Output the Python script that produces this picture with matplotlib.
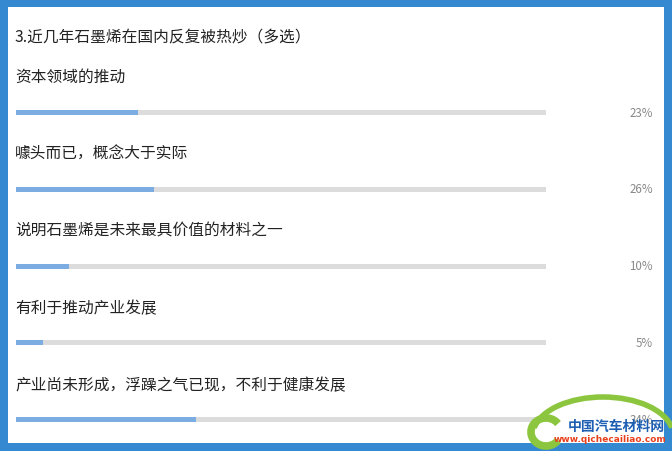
import matplotlib
matplotlib.use("Agg")
import matplotlib.pyplot as plt
from matplotlib.patches import Rectangle, Arc

plt.rcParams['font.family'] = ['Noto Sans CJK SC', 'DejaVu Sans']

# survey data
title = "3.近几年石墨烯在国内反复被热炒（多选）"
options = ["资本领域的推动",
           "噱头而已，概念大于实际",
           "说明石墨烯是未来最具价值的材料之一",
           "有利于推动产业发展",
           "产业尚未形成，浮躁之气已现，不利于健康发展"]
percents = [23, 26, 10, 5, 34]

W, H = 672, 452
fig = plt.figure(figsize=(W / 100, H / 100), dpi=100)
fig.patch.set_facecolor("#3589d1")
ax = fig.add_axes([0, 0, 1, 1])
ax.set_xlim(0, W)
ax.set_ylim(H, 0)
ax.axis("off")

# white panel inside the blue frame
ax.add_patch(Rectangle((8, 8), 656, 436, facecolor="white", edgecolor="none"))

ax.text(15, 37.5, title, fontsize=11.3, color="#222222", va="center", ha="left")

bar_left, bar_len = 16, 530
label_y = [77.5, 154.5, 231.5, 308.5, 385.5]
bar_y = [113.5, 190, 267, 343.5, 420.5]
ax.barh(bar_y, [bar_len] * len(options), left=bar_left, height=5,
        color="#dcdcdc", edgecolor="none")
ax.barh(bar_y, [p / 100 * bar_len for p in percents], left=bar_left, height=5,
        color="#7badE2", edgecolor="none")

for lab, ly, by, p in zip(options, label_y, bar_y, percents):
    ax.text(15, ly, lab, fontsize=11.3, color="#222222", va="center", ha="left")
    ax.text(653, by, f"{p}%", fontsize=8.3, color="#888888", va="center", ha="right")

# watermark logo (y axis is inverted, so the upper half is 180..360)
ax.add_patch(Arc((603, 436), 140, 76, theta1=186, theta2=354,
                 color="#8cc63f", lw=4, zorder=4))
ax.add_patch(Arc((546, 433), 30, 28, theta1=35, theta2=325,
                 color="#8cc63f", lw=5.5, zorder=4))
ax.text(616, 427, "中国汽车材料网", fontsize=10, color="#1e5fb3",
        fontweight="bold", ha="center", va="center", zorder=5)
ax.text(610, 440, "www.qichecailiao.com", fontsize=6.5, color="#e8401c",
        fontweight="bold", ha="center", va="center", family="DejaVu Sans", zorder=5)

fig.savefig("out.png", dpi=100, facecolor=fig.get_facecolor())
